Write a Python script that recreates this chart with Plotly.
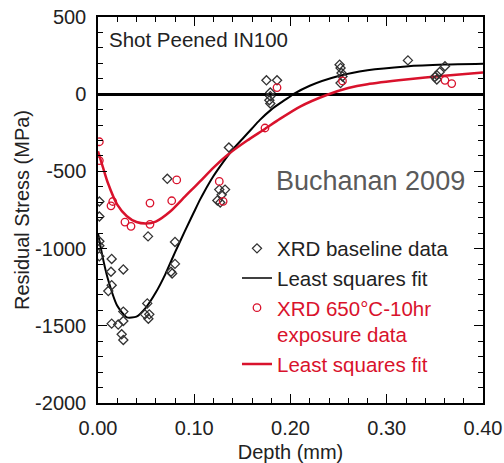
import plotly.graph_objects as go

# ---- data ----
base_depth = [0.0014, 0.0014, 0.0014, 0.0014, 0.0014,
              0.0142, 0.0135, 0.0263, 0.0142, 0.0107,
              0.0263, 0.0142, 0.0210, 0.0263, 0.0246, 0.0263,
              0.0520, 0.0720, 0.0800, 0.0800, 0.0758, 0.0770,
              0.0512, 0.0488, 0.0533, 0.0523,
              0.1360, 0.1260, 0.1320, 0.1285, 0.1240, 0.1270,
              0.1750, 0.1860, 0.1790, 0.1790, 0.1780, 0.1790,
              0.2510, 0.2520, 0.2530, 0.2540, 0.2520,
              0.3220,
              0.3605, 0.3550, 0.3520, 0.3500, 0.3520]
base_stress = [-695, -792, -953, -981, -1050,
               -1067, -1150, -1135, -1237, -1275,
               -1408, -1486, -1492, -1469, -1555, -1592,
               -921, -548, -957, -1099, -1150, -1161,
               -1355, -1426, -1426, -1454,
               -345, -618, -618, -651, -688, -701,
               90, 90, 11, -13, -39, -60,
               191, 170, 137, 115, 72,
               219,
               181, 144, 123, 112, 95]

exp_depth = [0.0014, 0.0014, 0.0818, 0.0153, 0.0135, 0.0540, 0.0766, 0.0280,
             0.0343, 0.0540, 0.1260, 0.1300, 0.1735, 0.1860, 0.2540, 0.3605, 0.3675]
exp_stress = [-308, -430, -555, -695, -723, -705, -690, -828,
              -856, -843, -565, -694, -219, 43, 86, 90, 69]

base_fit_depth = [0, 0.005, 0.01, 0.02, 0.03, 0.04, 0.05, 0.06, 0.07, 0.0766, 0.08, 0.09,
                  0.10, 0.106, 0.11, 0.12, 0.13, 0.137, 0.14, 0.15, 0.16, 0.168, 0.18,
                  0.19, 0.20, 0.203, 0.22, 0.25, 0.28, 0.32, 0.36, 0.40]
base_fit_stress = [-900, -1060, -1190, -1370, -1445, -1440, -1380, -1285, -1165, -1072, -1025, -890,
                   -760, -683, -636, -530, -440, -381, -358, -290, -222, -168, -100,
                   -55, -13, 0, 55, 118, 155, 180, 192, 197]

exp_fit_depth = [0, 0.005, 0.01, 0.02, 0.03, 0.04, 0.05, 0.06, 0.075, 0.09, 0.0956, 0.106, 0.12,
                 0.137, 0.155, 0.1735, 0.189, 0.21, 0.2376, 0.26, 0.28, 0.32, 0.36, 0.40]
exp_fit_stress = [-370, -470, -570, -715, -790, -828, -838, -825, -760, -665, -630, -565, -475,
                  -381, -300, -225, -160, -80, -5, 40, 65, 95, 120, 140]

x_tick_vals = [0.0, 0.1, 0.2, 0.3, 0.4]
x_tick_text = ["0.00", "0.10", "0.20", "0.30", "0.40"]
y_tick_vals = [-2000, -1500, -1000, -500, 0, 500]
y_tick_text = ["-2000", "-1500", "-1000", "-500", "0", "500"]

BLACK = "#222222"
RED = "#d9122c"
FONT = "Liberation Sans, Arial, sans-serif"

fig = go.Figure()
fig.add_trace(go.Scatter(
    x=base_fit_depth, y=base_fit_stress, mode="lines", showlegend=False,
    line=dict(color="black", width=2, shape="spline", smoothing=0.6), hoverinfo="skip"))
fig.add_trace(go.Scatter(
    x=exp_fit_depth, y=exp_fit_stress, mode="lines", showlegend=False,
    line=dict(color=RED, width=2.5, shape="spline", smoothing=0.6), hoverinfo="skip"))

fig.add_trace(go.Scatter(
    x=base_depth, y=base_stress, mode="markers", name="XRD baseline data",
    marker=dict(symbol="diamond-open", size=7, color="#333333", line=dict(width=1.3))))
fig.add_trace(go.Scatter(
    x=[None], y=[None], mode="lines", name="Least squares fit",
    line=dict(color="black", width=1.5)))
fig.add_trace(go.Scatter(
    x=exp_depth, y=exp_stress, mode="markers",
    name=f"<span style='color:{RED}'>XRD 650°C-10hr</span><br><span style='color:{RED}'>exposure data</span>",
    marker=dict(symbol="circle-open", size=7.5, color=RED, line=dict(width=1.3))))
fig.add_trace(go.Scatter(
    x=[None], y=[None], mode="lines",
    name=f"<span style='color:{RED}'>Least squares fit</span>",
    line=dict(color=RED, width=2.5)))

fig.add_annotation(text="Shot Peened IN100", xref="x domain", yref="y",
                   x=0.023, y=353, xanchor="left", yanchor="middle", showarrow=False,
                   font=dict(family=FONT, size=20.5, color=BLACK))
fig.add_annotation(text="Buchanan 2009", xref="x domain", yref="y",
                   x=0.458, y=-560, xanchor="left", yanchor="middle", showarrow=False,
                   font=dict(family=FONT, size=27, color="#5a5a5a"))

axis_common = dict(showline=True, linecolor="black", linewidth=1.5, mirror="ticks",
                   ticks="inside", tickcolor="black", tickwidth=1.2, ticklen=9,
                   showgrid=False, tickfont=dict(family=FONT, size=20, color=BLACK))

fig.update_xaxes(range=[0, 0.4], tickmode="array", tickvals=x_tick_vals, ticktext=x_tick_text,
                 zeroline=False, ticklabelstandoff=6,
                 minor=dict(tickmode="linear", tick0=0, dtick=0.02, ticks="inside", ticklen=5,
                            tickcolor="black", tickwidth=1.2, showgrid=False),
                 title=dict(text="Depth (mm)", font=dict(family=FONT, size=20, color=BLACK), standoff=10),
                 **axis_common)
fig.update_yaxes(range=[-2000, 500], tickmode="array", tickvals=y_tick_vals, ticktext=y_tick_text,
                 zeroline=True, zerolinecolor="black", zerolinewidth=2.5, ticklabelstandoff=6,
                 minor=dict(tickmode="linear", tick0=0, dtick=100, ticks="inside", ticklen=5,
                            tickcolor="black", tickwidth=1.2, showgrid=False),
                 title=dict(text="Residual Stress (MPa)", font=dict(family=FONT, size=20, color=BLACK), standoff=0),
                 **axis_common)

fig.update_layout(
    width=504, height=463,
    margin=dict(l=98, r=21, t=17, b=60, autoexpand=False),
    paper_bgcolor="white", plot_bgcolor="white",
    font=dict(family=FONT, size=20, color=BLACK),
    legend=dict(x=0.361, y=0.452, xanchor="left", yanchor="top", bgcolor="rgba(0,0,0,0)",
                valign="top", tracegroupgap=0, font=dict(family=FONT, size=20.5, color=BLACK)),
)

fig.write_html("out.html", config={"displayModeBar": False},
               post_script="document.body.style.margin='0';")
